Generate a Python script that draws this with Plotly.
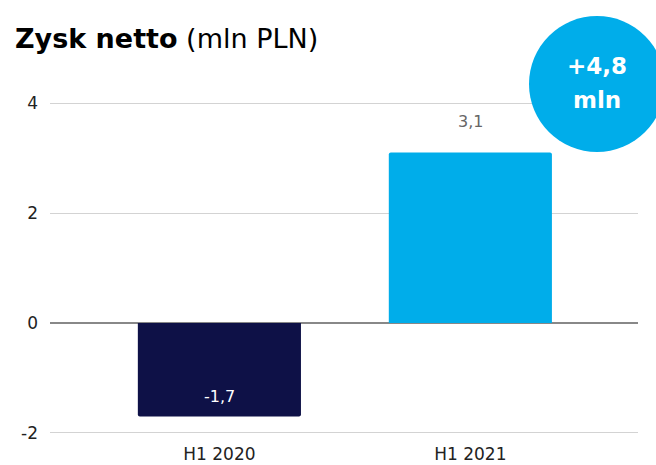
import plotly.graph_objects as go

# Net profit, H1 comparison (mln PLN)
periods = ["H1 2020", "H1 2021"]
profit = [-1.7, 3.1]
bar_colors = ["#0E1147", "#00ADEA"]
y_ticks = [-2, 0, 2, 4]
change_value = "+4,8"
change_unit = "mln"

FONT = "DejaVu Sans, Arial, sans-serif"

def pl(v):
    return f"{v:.1f}".replace(".", ",")

fig = go.Figure()
fig.add_trace(go.Bar(
    x=periods,
    y=profit,
    marker=dict(color=bar_colors, line=dict(width=0)),
    width=0.65,
    hoverinfo="skip",
))

# value labels: above the positive bar, inside the negative bar near its end
for p, v in zip(periods, profit):
    if v >= 0:
        fig.add_annotation(x=p, y=v, text=pl(v), showarrow=False,
                           yshift=31, font=dict(family=FONT, size=16, color="#666666"))
    else:
        fig.add_annotation(x=p, y=v, text=pl(v), showarrow=False,
                           yshift=20, font=dict(family=FONT, size=16, color="#ffffff"))

# plot area geometry (pixels)
L, R, T, B = 50, 18, 102, 31
W, H = 656, 465
pw, ph = W - L - R, H - T - B

def px_to_paper(x, y):
    return (x - L) / pw, (H - B - y) / ph

# badge with the year-on-year change
cx, cy = px_to_paper(597, 84)
rad = 68
fig.add_shape(type="circle", xref="paper", yref="paper",
              xsizemode="pixel", ysizemode="pixel",
              xanchor=cx, yanchor=cy, x0=-rad, x1=rad, y0=-rad, y1=rad,
              fillcolor="#00ADEA", line=dict(width=0), layer="above")
for txt, ypx in [(change_value, 66), (change_unit, 100)]:
    ax, ay = px_to_paper(597, ypx)
    fig.add_annotation(xref="paper", yref="paper", x=ax, y=ay, text=f"<b>{txt}</b>",
                       showarrow=False, xanchor="center", yanchor="middle",
                       font=dict(family=FONT, size=23, color="#ffffff"))

tx, ty = px_to_paper(13, 38)
fig.add_annotation(xref="paper", yref="paper", x=tx, y=ty,
                   text="<b>Zysk netto</b> (mln PLN)", showarrow=False,
                   xanchor="left", yanchor="middle",
                   font=dict(family=FONT, size=27, color="#000000"))

fig.update_layout(
    width=W, height=H,
    margin=dict(l=L, r=R, t=T, b=B, autoexpand=False),
    plot_bgcolor="#ffffff", paper_bgcolor="#ffffff",
    showlegend=False,
    barcornerradius=2,
    xaxis=dict(range=[-0.675, 1.668], showgrid=False, showline=False, ticks="",
               ticklabelstandoff=8, automargin=False,
               tickfont=dict(family=FONT, size=17, color="#222222")),
    yaxis=dict(range=[-2.02, 4.02], tickvals=y_ticks, ticktext=[str(t) for t in y_ticks],
               showgrid=True, gridcolor="#d3d3d3", gridwidth=1,
               zeroline=True, zerolinecolor="#888888", zerolinewidth=1.5,
               showline=False, ticks="", ticklabelstandoff=11, automargin=False,
               tickfont=dict(family=FONT, size=17, color="#222222")),
)

fig.write_html("out.html")
